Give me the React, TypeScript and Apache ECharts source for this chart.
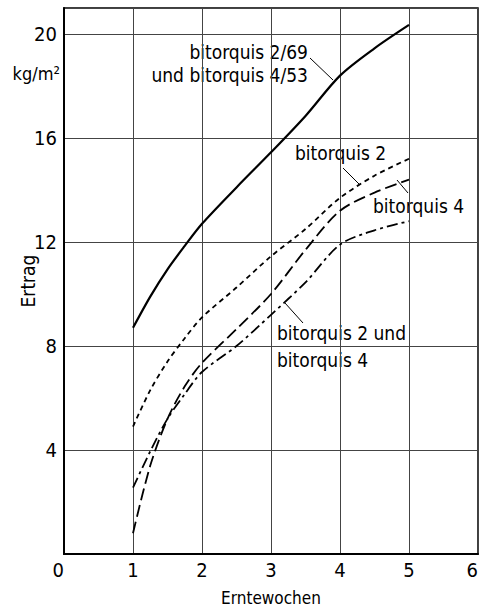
import React, { useEffect, useRef } from "react";
import * as echarts from "echarts";

const weeks = [1, 1.25, 1.5, 1.75, 2, 2.5, 3, 3.5, 4, 4.5, 5];
const yieldBoth = [8.7, 9.9, 10.95, 11.85, 12.7, 14.1, 15.45, 16.85, 18.4, 19.45, 20.35];
const yieldB2 = [4.9, 6.3, 7.4, 8.3, 9.1, 10.25, 11.45, 12.5, 13.7, 14.55, 15.2];
const yieldB4 = [0.8, 3.4, 5.2, 6.45, 7.35, 8.65, 10.0, 11.7, 13.2, 13.9, 14.4];
const yieldB2B4 = [2.55, 3.95, 5.2, 6.15, 7.0, 8.0, 9.2, 10.45, 11.9, 12.45, 12.8];
const xTicks = [0, 1, 2, 3, 4, 5, 6];
const yTicks = [4, 8, 12, 16, 20];

const ANN_FONT = "'DejaVu Sans Condensed', 'DejaVu Sans', sans-serif";
const TICK_FONT = "'Liberation Sans Narrow', 'DejaVu Sans Condensed', sans-serif";

function pairs(vals: number[]) {
  return weeks.map((w, i) => [w, vals[i]]);
}

export default function App() {
  const ref = useRef<HTMLDivElement>(null);
  useEffect(() => {
    if (!ref.current) return;
    const chart = echarts.init(ref.current, undefined, { renderer: "svg" });
    const lineBase = { type: "line", symbol: "none", smooth: 0.3 };
    const annText = (text: string, x: number, y: number, align: string) => ({
      type: "text",
      x,
      y,
      style: {
        text,
        fill: "#000",
        font: `19px ${ANN_FONT}`,
        align,
        verticalAlign: "middle",
      },
    });
    const leader = (x1: number, y1: number, x2: number, y2: number) => ({
      type: "line",
      shape: { x1, y1, x2, y2 },
      style: { stroke: "#000", lineWidth: 1 },
    });
    chart.setOption({
      animation: false,
      backgroundColor: "#fff",
      grid: {
        left: 64,
        right: 1,
        top: 8,
        bottom: 53,
        show: true,
        borderColor: "#000",
        borderWidth: 1.5,
        containLabel: false,
        outerBoundsMode: "none",
      },
      xAxis: {
        type: "value",
        min: 0,
        max: 6,
        interval: 1,
        name: "Erntewochen",
        nameLocation: "middle",
        nameGap: 35,
        nameMoveOverlap: false,
        nameTextStyle: { fontFamily: ANN_FONT, fontSize: 17, color: "#000" },
        axisLine: { show: true, lineStyle: { color: "#000", width: 2 } },
        axisTick: { show: false },
        axisLabel: {
          margin: 6,
          fontFamily: TICK_FONT,
          fontSize: 20,
          color: "#000",
          alignMinLabel: "right",
          alignMaxLabel: "right",
          formatter: (v: number) => (xTicks.includes(v) ? String(v) : ""),
        },
        splitLine: { show: true, lineStyle: { color: "#444", width: 1 } },
      },
      yAxis: {
        type: "value",
        min: 0,
        max: 21,
        interval: 4,
        name: "Ertrag",
        nameLocation: "middle",
        nameGap: 27,
        nameMoveOverlap: false,
        nameRotate: 90,
        nameTextStyle: { fontFamily: ANN_FONT, fontSize: 19, color: "#000" },
        axisLine: { show: true, lineStyle: { color: "#000", width: 2 } },
        axisTick: { show: false },
        axisLabel: {
          margin: 7,
          fontFamily: TICK_FONT,
          fontSize: 20,
          color: "#000",
          formatter: (v: number) => (yTicks.includes(v) ? String(v) : ""),
        },
        splitLine: { show: true, lineStyle: { color: "#444", width: 1 } },
      },
      series: [
        { ...lineBase, name: "bitorquis 2/69 und bitorquis 4/53", data: pairs(yieldBoth), lineStyle: { color: "#000", width: 2.2, type: "solid" } },
        { ...lineBase, name: "bitorquis 2", data: pairs(yieldB2), lineStyle: { color: "#000", width: 1.8, type: [5, 4] } },
        { ...lineBase, name: "bitorquis 4", data: pairs(yieldB4), lineStyle: { color: "#000", width: 1.8, type: [12, 5] } },
        { ...lineBase, name: "bitorquis 2 und bitorquis 4", data: pairs(yieldB2B4), lineStyle: { color: "#000", width: 1.8, type: [11, 4, 3, 4] } },
      ],
      graphic: [
        {
          type: "text",
          x: 60,
          y: 73,
          style: { text: "kg/m²", fill: "#000", font: `18px ${ANN_FONT}`, align: "right", verticalAlign: "middle" },
        },
        annText("bitorquis 2/69", 308, 52, "right"),
        annText("und bitorquis 4/53", 308, 75, "right"),
        leader(310, 58, 333, 80),
        annText("bitorquis 2", 295, 153, "left"),
        leader(343, 168, 359, 184),
        annText("bitorquis 4", 373, 206, "left"),
        leader(397, 180, 408, 193),
        annText("bitorquis 2 und", 277, 333, "left"),
        annText("bitorquis 4", 277, 360, "left"),
        leader(285, 303, 303, 323),
      ],
    });
    return () => chart.dispose();
  }, []);
  return (
    <div
      ref={ref}
      style={{ position: "absolute", left: 0, top: 0, width: 479, height: 607, background: "#fff" }}
    />
  );
}
